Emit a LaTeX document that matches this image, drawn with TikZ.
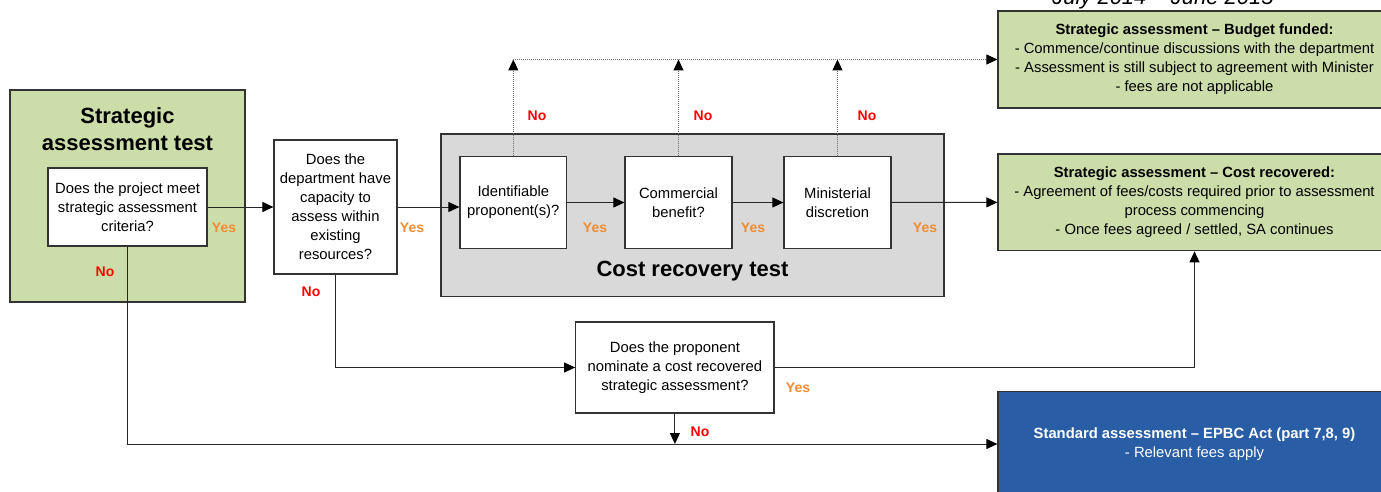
\documentclass[tikz,border=0pt]{standalone}
\usepackage{fontspec}
\setmainfont{Liberation Sans}
\usepackage{xcolor}
\usetikzlibrary{arrows.meta}
\definecolor{sagreen}{RGB}{205,221,170}
\definecolor{crgray}{RGB}{217,217,217}
\definecolor{epbcblue}{RGB}{41,94,166}
\definecolor{yesorange}{RGB}{240,140,50}
\newcommand{\boxfont}{\fontsize{14.8}{19}\selectfont}
\newcommand{\headfont}{\fontsize{22}{27.5}\selectfont\bfseries}
\newcommand{\answerfont}{\fontsize{14}{16}\selectfont\bfseries}

\begin{document}
\begin{tikzpicture}[x=1pt,y=-1pt,
   box/.style={draw=black!80,line width=1.2pt,fill=white,align=center,inner sep=0pt,font=\boxfont},
   greenbox/.style={box,fill=sagreen},
   yes/.style={text=yesorange,font=\answerfont},
   no/.style={text=red,font=\answerfont},
   flow/.style={draw=black!85,line width=1pt,-{Triangle[length=11pt,width=10pt,color=black]}},
   noflow/.style={flow,draw=black!55,densely dotted}]
\useasboundingbox (0,0) rectangle (1381,492);
\node[anchor=base,font=\fontsize{22}{26}\selectfont\itshape] (period) at (1163,4.7) {July 2014 – June 2015};
% strategic assessment test
\node[greenbox,minimum width=235,minimum height=212] (satest) at (127.5,196) {};
\node[font=\headfont,align=center] (satitle) at (127.5,129) {Strategic\\assessment test};
\node[box,minimum width=159,minimum height=78] (meets) at (127.5,207)
   {Does the project meet\\strategic assessment\\criteria?};
\node[box,minimum width=123,minimum height=134] (capacity) at (335.5,207)
   {Does the\\department have\\capacity to\\assess within\\existing\\resources?};
% cost recovery test
\node[box,fill=crgray,minimum width=503,minimum height=162.5] (crtest) at (692.5,215.3) {};
\node[font=\headfont] (crtitle) at (692.5,271) {Cost recovery test};
\node[box,minimum width=106.7,minimum height=91.6] (ident) at (513.3,202.5)
   {Identifiable\\proponent(s)?};
\node[box,minimum width=107,minimum height=91.6] (commercial) at (678.5,202.5)
   {Commercial\\benefit?};
\node[box,minimum width=107,minimum height=91.6] (ministerial) at (837.5,202.5)
   {Ministerial\\discretion};
\node[box,minimum width=198.3,minimum height=91] (nominate) at (674.9,367.5)
   {Does the proponent\\nominate a cost recovered\\strategic assessment?};
% outcomes
\node[greenbox,minimum width=393,minimum height=97] (budget) at (1194.5,59.5)
   {\textbf{Strategic assessment – Budget funded:}\\- Commence/continue discussions with the department\\- Assessment is still subject to agreement with Minister\\- fees are not applicable};
\node[greenbox,minimum width=393,minimum height=96.7] (costrec) at (1194.5,202.35)
   {\textbf{Strategic assessment – Cost recovered:}\\- Agreement of fees/costs required prior to assessment\\process commencing\\- Once fees agreed / settled, SA continues};
\node[box,fill=epbcblue,text=white,minimum width=393,minimum height=104.6] (standard) at (1194.5,444)
   {\textbf{Standard assessment – EPBC Act (part 7,8, 9)}\\- Relevant fees apply};
% connectors
\draw[flow] (meets.east) -- (capacity.west);
\draw[flow] (capacity.east) -- (capacity.east -| ident.west);
\draw[flow] (ident.east) -- (commercial.west);
\draw[flow] (commercial.east) -- (ministerial.west);
\draw[flow] (ministerial.east) -- (costrec.west);
\draw[noflow] (ident.north) -- (ident.north |- budget.west);
\draw[noflow] (commercial.north) -- (commercial.north |- budget.west);
\draw[noflow] (ministerial.north) -- (ministerial.north |- budget.west);
\draw[noflow] (ident.north |- budget.west) -- (budget.west);
\draw[flow] (capacity.south) |- (nominate.west);
\draw[flow] (nominate.east) -| (costrec.south);
\draw[flow] (nominate.south) -- (nominate.south |- standard.west);
\draw[flow] (meets.south) |- (standard.west);
% answers
\node[yes] (yes1) at (224,228) {Yes};
\node[yes] (yes2) at (412,228) {Yes};
\node[yes] (yes3) at (595,228) {Yes};
\node[yes] (yes4) at (753,228) {Yes};
\node[yes] (yes5) at (925,228) {Yes};
\node[yes] (yes6) at (798,388) {Yes};
\node[no] (no1) at (105,272) {No};
\node[no] (no2) at (311,292) {No};
\node[no] (no3) at (537,116) {No};
\node[no] (no4) at (703,116) {No};
\node[no] (no5) at (867,116) {No};
\node[no] (no6) at (700,432) {No};
\end{tikzpicture}
\end{document}
